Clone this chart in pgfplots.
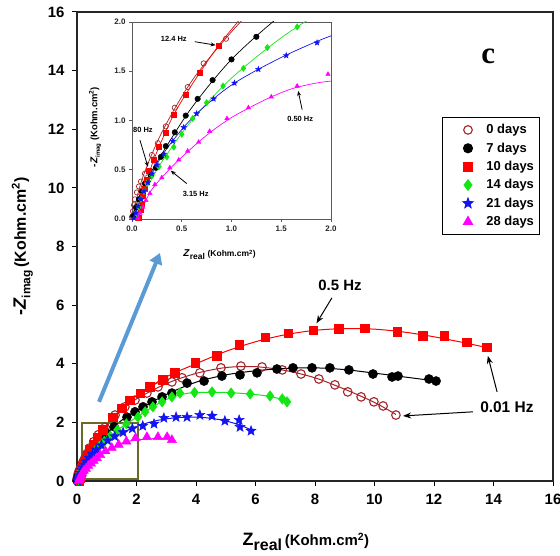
\documentclass[border=0pt]{standalone}
\usepackage{fontspec}
\setmainfont{Liberation Sans}
\newfontfamily\timesfont{Liberation Serif}
\usepackage{pgfplots}
\usepackage{pgfplotstable}
\pgfplotsset{compat=1.18}
\usetikzlibrary{arrows.meta,plotmarks}

\definecolor{zeroc}{RGB}{165,35,40}
\definecolor{redc}{RGB}{255,0,0}
\definecolor{greenc}{RGB}{20,230,20}
\definecolor{bluec}{RGB}{20,20,240}
\definecolor{magc}{RGB}{255,0,255}
\definecolor{olivec}{RGB}{105,105,40}
\definecolor{arrowblue}{RGB}{91,155,213}
\definecolor{insetgray}{RGB}{90,90,90}

\pgfdeclareplotmark{fstar}{%
  \pgfpathmoveto{\pgfpointpolar{90}{\pgfplotmarksize}}%
  \pgfpathlineto{\pgfpointpolar{126}{0.42\pgfplotmarksize}}%
  \pgfpathlineto{\pgfpointpolar{162}{\pgfplotmarksize}}%
  \pgfpathlineto{\pgfpointpolar{198}{0.42\pgfplotmarksize}}%
  \pgfpathlineto{\pgfpointpolar{234}{\pgfplotmarksize}}%
  \pgfpathlineto{\pgfpointpolar{270}{0.42\pgfplotmarksize}}%
  \pgfpathlineto{\pgfpointpolar{306}{\pgfplotmarksize}}%
  \pgfpathlineto{\pgfpointpolar{342}{0.42\pgfplotmarksize}}%
  \pgfpathlineto{\pgfpointpolar{18}{\pgfplotmarksize}}%
  \pgfpathlineto{\pgfpointpolar{54}{0.42\pgfplotmarksize}}%
  \pgfpathclose\pgfusepathqfillstroke}

\pgfplotsset{legmark/.style={legend image code/.code={%
  \path (0bp,0bp) (38bp,0bp);
  \draw[##1] plot coordinates {(22bp,0bp)};}}}

% ---------- data (marks) ----------
\pgfplotstableread{
x y
0.00 0.02
0.01 0.08
0.02 0.14
0.03 0.20
0.05 0.27
0.07 0.33
0.09 0.38
0.13 0.46
0.20 0.65
0.26 0.77
0.34 0.94
0.43 1.13
0.56 1.34
0.72 1.58
0.945 1.83
1.28 2.25
1.61 2.53
1.95 2.76
2.35 3.00
2.72 3.21
3.19 3.38
3.53 3.52
4.13 3.69
4.84 3.86
5.51 3.92
6.22 3.89
6.90 3.79
7.53 3.65
8.13 3.48
8.67 3.28
9.10 3.04
9.55 2.87
9.98 2.70
10.29 2.56
10.72 2.25
}\tZero
\pgfplotstableread{
x y
0.01 0.03
0.04 0.12
0.07 0.20
0.10 0.28
0.13 0.36
0.19 0.44
0.24 0.52
0.29 0.63
0.34 0.74
0.43 0.88
0.54 1.05
0.66 1.22
0.81 1.41
1.00 1.62
1.25 1.85
1.68 2.18
1.95 2.36
2.22 2.53
2.52 2.70
2.86 2.87
3.19 3.00
3.70 3.34
4.27 3.41
4.87 3.58
5.48 3.62
6.05 3.69
6.72 3.82
7.26 3.86
7.90 3.86
8.50 3.86
9.14 3.79
9.95 3.65
10.59 3.55
10.79 3.58
11.83 3.48
12.07 3.41
}\tSeven
\pgfplotstableread{
x y
0.07 0.01
0.09 0.09
0.10 0.16
0.11 0.24
0.13 0.31
0.15 0.40
0.17 0.49
0.22 0.60
0.27 0.73
0.34 0.88
0.42 1.06
0.54 1.26
0.68 1.49
0.87 1.76
1.21 2.18
1.51 2.49
1.78 2.76
2.12 3.00
2.45 3.21
2.89 3.45
3.29 3.69
3.97 4.03
4.70 4.27
5.45 4.64
6.32 4.91
7.10 5.04
7.94 5.14
8.80 5.19
9.68 5.21
10.76 5.09
11.63 4.95
12.34 4.95
13.10 4.74
13.78 4.57
}\tTen
\pgfplotstableread{
x y
0.05 0.05
0.07 0.12
0.09 0.20
0.12 0.28
0.15 0.36
0.20 0.44
0.27 0.53
0.35 0.63
0.42 0.73
0.50 0.86
0.61 1.02
0.75 1.18
0.915 1.35
1.12 1.53
1.36 1.74
1.66 1.95
2.05 2.18
2.29 2.36
2.55 2.53
2.86 2.70
3.19 2.87
3.46 3.00
3.95 3.02
4.54 3.04
5.18 3.00
5.82 2.97
6.49 2.90
6.90 2.80
7.06 2.70
}\tFourteen
\pgfplotstableread{
x y
0.02 0.01
0.04 0.06
0.06 0.13
0.09 0.20
0.12 0.28
0.16 0.37
0.20 0.46
0.25 0.55
0.32 0.66
0.41 0.79
0.52 0.93
0.65 1.07
0.82 1.22
1.03 1.38
1.27 1.52
1.55 1.66
1.86 1.79
2.21 1.88
2.59 1.95
2.92 2.15
3.33 2.18
3.70 2.18
4.13 2.25
4.54 2.22
4.97 2.05
5.45 2.08
5.48 1.84
5.85 1.71
}\tTwentyOne
\pgfplotstableread{
x y
0.06 0.01
0.08 0.06
0.11 0.12
0.14 0.19
0.18 0.26
0.23 0.35
0.30 0.42
0.38 0.52
0.47 0.60
0.56 0.69
0.67 0.78
0.78 0.89
0.955 1.02
1.17 1.13
1.40 1.24
1.66 1.35
1.97 1.47
2.35 1.50
2.72 1.50
3.03 1.50
3.19 1.40
}\tTwentyEight

% ---------- fitted curves ----------
\pgfplotstableread{
x y
0.00 0.00
0.10 0.40
0.30 0.88
0.60 1.40
1.00 1.90
1.50 2.42
2.00 2.80
3.00 3.32
4.00 3.67
5.00 3.87
6.00 3.90
7.00 3.77
8.00 3.52
9.00 3.13
10.00 2.68
10.72 2.27
}\fZero
\pgfplotstableread{
x y
0.00 0.00
0.10 0.30
0.30 0.66
0.60 1.13
1.00 1.62
1.50 2.07
2.00 2.40
3.00 2.95
4.00 3.37
5.00 3.62
6.00 3.76
7.00 3.84
8.00 3.86
9.00 3.80
10.00 3.68
11.00 3.55
12.07 3.41
}\fSeven
\pgfplotstableread{
x y
0.06 0.00
0.10 0.17
0.20 0.55
0.40 1.02
0.60 1.36
0.87 1.76
1.20 2.16
1.60 2.58
2.00 2.90
3.00 3.55
4.00 4.00
5.00 4.42
6.00 4.75
7.00 4.99
8.00 5.14
9.00 5.20
10.00 5.18
11.00 5.08
12.00 4.92
13.00 4.72
13.78 4.55
}\fTen
\pgfplotstableread{
x y
0.03 0.00
0.10 0.22
0.30 0.58
0.60 1.00
1.00 1.43
1.50 1.84
2.00 2.17
2.50 2.50
3.00 2.78
3.50 2.95
4.00 3.02
5.00 3.02
6.00 2.95
6.60 2.86
7.10 2.72
}\fFourteen
\pgfplotstableread{
x y
0.02 0.00
0.10 0.24
0.30 0.64
0.60 1.02
1.00 1.36
1.50 1.64
2.00 1.86
2.50 2.02
3.00 2.12
3.50 2.17
4.00 2.18
4.50 2.14
5.00 2.05
5.50 1.90
5.85 1.74
}\fTwentyOne
\pgfplotstableread{
x y
0.05 0.00
0.10 0.10
0.20 0.30
0.40 0.53
0.60 0.72
0.80 0.89
1.00 1.03
1.20 1.14
1.40 1.24
1.60 1.32
1.80 1.37
2.00 1.40
2.50 1.44
3.00 1.45
3.20 1.42
}\fTwentyEight

\begin{document}
\begin{tikzpicture}
\path[use as bounding box] (-77bp,-75bp) rectangle (483bp,481bp);

\begin{axis}[
  at={(0,0)}, anchor=south west, scale only axis,
  width=476bp, height=469bp,
  xmin=0, xmax=16, ymin=0, ymax=16,
  xtick={0,2,...,16}, ytick={0,2,...,16},
  xticklabels={0,2,4,6,8,10,12,14,16},
  yticklabels={0,2,4,6,8,10,12,14,16},
  tick align=outside, xtick pos=bottom, ytick pos=left,
  major tick length=5bp,
  tick style={line width=1bp, black},
  axis line style={line width=1.1bp, black!85},
  tick label style={font=\bfseries\fontsize{15}{17}\selectfont},
  xticklabel style={yshift=-5bp},
  yticklabel style={xshift=-4bp},
  clip=false,
  xlabel={{\fontsize{18}{20}\selectfont\bfseries Z\raisebox{-0.3em}{\fontsize{16}{17}\selectfont real}}\ {\bfseries\fontsize{15}{16}\selectfont (Kohm.cm\textsuperscript{2})}},
  ylabel={{\fontsize{18}{20}\selectfont\bfseries -\textit{Z}\raisebox{-0.25em}{\fontsize{12}{13}\selectfont imag}}\ {\bfseries\fontsize{16}{17}\selectfont (Kohm.cm\textsuperscript{2})}},
  xlabel style={at={(axis description cs:0.481,-0.13)}, anchor=center},
  ylabel style={at={(axis description cs:-0.115,0.5)}, anchor=center},
  legend cell align=left,
  legend style={at={(0.767,0.776)}, anchor=north west, draw=black, line width=0.9bp,
    font=\bfseries\fontsize{13}{15}\selectfont, row sep=3.5bp, inner xsep=3bp, inner ysep=5bp},
]
\addplot[forget plot, zeroc, line width=1bp, smooth] table {\fZero};
\addplot[forget plot, black, line width=1bp, smooth] table {\fSeven};
\addplot[forget plot, redc, line width=1bp, smooth] table {\fTen};
\addplot[forget plot, greenc, line width=1bp, smooth] table {\fFourteen};
\addplot[forget plot, bluec, line width=1bp, smooth] table {\fTwentyOne};
\addplot[forget plot, magc, line width=1bp, smooth] table {\fTwentyEight};

\addplot[only marks, legmark, zeroc, mark=o, mark size=4.3bp, mark options={line width=1.1bp}] table {\tZero};
\addlegendentry{0 days}
\addplot[only marks, legmark, black, mark=*, mark size=4.6bp] table {\tSeven};
\addlegendentry{7 days}
\addplot[only marks, legmark, redc, mark=square*, mark size=4.3bp] table {\tTen};
\addlegendentry{10 days}
\addplot[only marks, legmark, greenc, mark=diamond*, mark size=5.3bp] table {\tFourteen};
\addlegendentry{14 days}
\addplot[only marks, legmark, bluec, mark=fstar, mark size=5.3bp] table {\tTwentyOne};
\addlegendentry{21 days}
\addplot[only marks, legmark, magc, mark=triangle*, mark size=5.3bp] table {\tTwentyEight};
\addlegendentry{28 days}

\draw[olivec, line width=1.3bp] (axis cs:0.17,0.07) rectangle (axis cs:2.05,1.98);
\draw[arrowblue, line width=4bp, -{Triangle[length=11bp,width=13bp]}] (axis cs:0.74,2.7) -- (axis cs:2.79,7.78);

\node[font=\bfseries\fontsize{15}{16}\selectfont] at (axis cs:8.84,6.69) {0.5 Hz};
\draw[line width=1bp, -{Stealth[length=8bp,width=6bp]}] (axis cs:8.57,6.25) -- (axis cs:8.05,5.38);
\node[font=\bfseries\fontsize{15.5}{16}\selectfont] at (axis cs:14.45,2.53) {0.01 Hz};
\draw[line width=1bp, -{Stealth[length=8bp,width=6bp]}] (axis cs:13.31,2.36) -- (axis cs:10.96,2.22);
\draw[line width=1bp, -{Stealth[length=8bp,width=6bp]}] (axis cs:14.12,3.04) -- (axis cs:13.81,4.27);
\node[font=\timesfont\bfseries\fontsize{31}{31}\selectfont] at (axis cs:13.82,14.5) {c};
\end{axis}

\begin{axis}[
  at={(55bp,262bp)}, anchor=south west, scale only axis,
  width=199bp, height=197bp,
  xmin=0, xmax=2, ymin=0, ymax=2,
  xtick={0,0.5,1,1.5,2}, ytick={0,0.5,1,1.5,2},
  xticklabels={0.0,0.5,1.0,1.5,2.0},
  yticklabels={0.0,0.5,1.0,1.5,2.0},
  tick align=outside, xtick pos=bottom, ytick pos=left,
  major tick length=3bp,
  tick style={line width=0.7bp, insetgray},
  axis line style={line width=0.9bp, insetgray},
  tick label style={font=\bfseries\fontsize{8}{9}\selectfont, black!85},
  xlabel={{\bfseries\fontsize{10}{11}\selectfont\textit{Z}\raisebox{-0.3em}{\fontsize{8.5}{9}\selectfont real}}\ {\bfseries\fontsize{8.5}{10}\selectfont (Kohm.cm\textsuperscript{2})}},
  ylabel={{\bfseries\fontsize{10}{11}\selectfont -\textit{Z}\raisebox{-0.25em}{\fontsize{6}{6}\selectfont imag}}\ {\bfseries\fontsize{9.5}{10}\selectfont (Kohm.cm\textsuperscript{2})}},
  xlabel style={at={(axis description cs:0.44,-0.183)}, anchor=center},
  ylabel style={at={(axis description cs:-0.186,0.467)}, anchor=center},
]
\addplot[zeroc, line width=0.7bp, smooth] table {\fZero};
\addplot[black, line width=0.7bp, smooth] table {\fSeven};
\addplot[redc, line width=0.7bp, smooth] table {\fTen};
\addplot[greenc, line width=0.7bp, smooth] table {\fFourteen};
\addplot[bluec, line width=0.7bp, smooth] table {\fTwentyOne};
\addplot[magc, line width=0.7bp, smooth] table {\fTwentyEight};

\addplot[only marks, zeroc, mark=o, mark size=2.6bp, mark options={line width=0.7bp}] table {\tZero};
\addplot[only marks, black, mark=*, mark size=2.8bp] table {\tSeven};
\addplot[only marks, redc, mark=square*, mark size=2.5bp] table {\tTen};
\addplot[only marks, greenc, mark=diamond*, mark size=3.2bp] table {\tFourteen};
\addplot[only marks, bluec, mark=fstar, mark size=3bp] table {\tTwentyOne};
\addplot[only marks, magc, mark=triangle*, mark size=2.6bp] table {\tTwentyEight};

\node[font=\bfseries\fontsize{7.5}{8}\selectfont] at (axis cs:0.42,1.83) {12.4 Hz};
\draw[line width=0.8bp, -{Stealth[length=5bp,width=4bp]}] (axis cs:0.63,1.80) -- (axis cs:0.84,1.765);
\node[font=\bfseries\fontsize{7.5}{8}\selectfont] at (axis cs:0.11,0.90) {80 Hz};
\draw[line width=0.8bp, -{Stealth[length=5bp,width=4bp]}] (axis cs:0.08,0.80) -- (axis cs:0.16,0.53);
\node[font=\bfseries\fontsize{7.5}{8}\selectfont] at (axis cs:0.64,0.25) {3.15 Hz};
\draw[line width=0.8bp, -{Stealth[length=5bp,width=4bp]}] (axis cs:0.55,0.36) -- (axis cs:0.39,0.49);
\node[font=\bfseries\fontsize{7.5}{8}\selectfont] at (axis cs:1.69,1.02) {0.50 Hz};
\draw[line width=0.8bp, -{Stealth[length=5bp,width=4bp]}] (axis cs:1.71,1.11) -- (axis cs:1.67,1.30);
\end{axis}
\end{tikzpicture}
\end{document}
